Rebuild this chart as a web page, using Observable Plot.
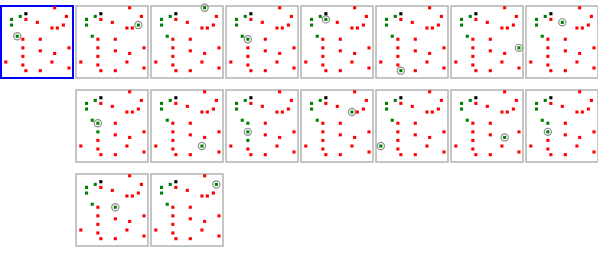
<!DOCTYPE html>
<html>
<head>
<meta charset="utf-8">
<script src="https://cdn.jsdelivr.net/npm/d3@7"></script>
<script src="https://cdn.jsdelivr.net/npm/@observablehq/plot@0.6"></script>
<style>
  html, body { margin: 0; padding: 0; background: #fff; }
  svg { display: block; }
</style>
</head>
<body>
<div id="chart"></div>
<script>
// Point set (ids and coordinates, in data units)
const pointIds = ["P0","G1","G2","G3","G4","a","b","c","d","e","f","g","h","i","j","k","l","m","n","o","p","q","r","s","t"];
const pointX   = [24.3,18.7,10,10,15.7,53,64.7,24.3,35.7,50.3,55.7,61.7,21.3,38.7,21.3,67.3,38.7,53,21.3,4.3,50.3,21.3,67.3,24.3,38.7];
const pointY   = [7.3,10,13,18.7,30,1.3,10,13,16,21.7,21.7,18.7,33,33,41.7,41.7,44.7,47.3,50.3,56,56,59,62,64.7,64.7];

// Fixed groups
const blackIds = ["P0"];
const baseGreenIds = ["G1","G2","G3"];

// Frames (small multiples): grid column, grid row, extra green points, highlighted point
const frameCol = [0,1,2,3,4,5,6,7, 1,2,3,4,5,6,7, 1,2];
const frameRow = [0,0,0,0,0,0,0,0, 1,1,1,1,1,1,1, 2,2];
const frameGreen = [
  [], ["G4"], ["G4"], ["G4"], ["G4"], ["G4"], ["G4"], ["G4"],
  ["G4","j"], ["G4"], ["G4","h","n"], ["G4"], ["G4"], ["G4"], ["G4","h"],
  ["G4"], ["G4"]
];
const frameHighlight = ["G4","g","a","h","c","s","k","d", "h","p","j","e","o","m","j", "i","b"];
const selectedFrame = 0;

// Build table
const rows = [];
frameCol.forEach((col, f) => {
  const greens = new Set([...baseGreenIds, ...frameGreen[f], frameHighlight[f]]);
  pointIds.forEach((id, k) => {
    const kind = blackIds.includes(id) ? "black" : greens.has(id) ? "green" : "red";
    rows.push({fx: col, fy: frameRow[f], x: pointX[k], y: pointY[k], kind, highlight: id === frameHighlight[f]});
  });
});
const panels = frameCol.map((c, f) => ({fx: c, fy: frameRow[f], selected: f === selectedFrame}));

const chart = Plot.plot({
  width: 598,
  height: 253,
  marginTop: 6,
  marginBottom: 6,
  marginLeft: -1,
  marginRight: -2,
  x: {domain: [0, 71.8], axis: null},
  y: {domain: [72.6, 0], axis: null},
  fx: {domain: d3.range(8), paddingInner: 0.04, paddingOuter: 0, axis: null},
  fy: {domain: d3.range(3), paddingInner: 0.138, paddingOuter: 0, axis: null},
  color: {type: "ordinal", domain: ["black","green","red"], range: ["#000000","#008000","#ff0000"]},
  marks: [
    Plot.rect(panels.filter(d => !d.selected), {fx: "fx", fy: "fy", fill: "none", stroke: "#b3b3b3", strokeWidth: 1.5}),
    Plot.rect(panels.filter(d => d.selected), {fx: "fx", fy: "fy", fill: "none", stroke: "#0000ff", strokeWidth: 2}),
    Plot.dot(rows.filter(d => d.highlight), {fx: "fx", fy: "fy", x: "x", y: "y", r: 3.6, stroke: "#8c8c8c", strokeWidth: 1.2, fill: "none"}),
    Plot.dot(rows, {fx: "fx", fy: "fy", x: "x", y: "y", symbol: "square", r: 1.75, fill: "kind"})
  ]
});
document.getElementById("chart").appendChild(chart);
</script>
</body>
</html>
